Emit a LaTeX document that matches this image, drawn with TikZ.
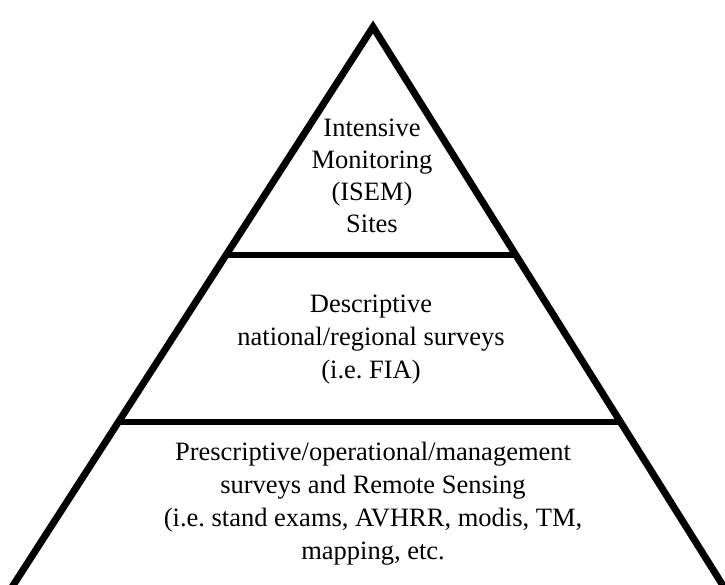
\documentclass[tikz,border=0pt]{standalone}
\usepackage{fontspec}
\setmainfont{Liberation Serif}
\usetikzlibrary{calc}
\frenchspacing
\tikzset{
  edge/.style={line width=7pt, line join=miter, line cap=butt},
  tier/.style={line width=6pt, line cap=butt},
  label/.style={align=center, inner sep=0pt, text=black},
}
\begin{document}
\begin{tikzpicture}[x=1pt, y=-1pt]
  \useasboundingbox (0,0) rectangle (725,584);
  \clip (0,0) rectangle (725,584);
  \coordinate (apex) at (373,27);
  \coordinate (bl) at (14,584);
  \coordinate (br) at (722,584);
  \coordinate (blx) at ($(apex)!1.05!(bl)$);
  \coordinate (brx) at ($(apex)!1.05!(br)$);
  \draw[edge] (blx) -- (apex) -- (brx);
  \coordinate (l1a) at ($(apex)!0.4093!(bl)$);
  \coordinate (l1b) at ($(apex)!0.4093!(br)$);
  \coordinate (l2a) at ($(apex)!0.7092!(bl)$);
  \coordinate (l2b) at ($(apex)!0.7092!(br)$);
  \draw[tier] (l1a) -- (l1b);
  \draw[tier] (l2a) -- (l2b);
  \node[label, font=\fontsize{26.5}{32}\selectfont] (top) at (372,176)
    {Intensive\\Monitoring\\(ISEM)\\Sites};
  \node[label, font=\fontsize{26.5}{33}\selectfont] (mid) at (371,340)
    {Descriptive\\national/regional surveys\\(i.e. FIA)};
  \node[label, font=\fontsize{26.5}{33}\selectfont] (bot) at (373,504)
    {Prescriptive/operational/management\\surveys and Remote Sensing\\(i.e. stand exams, AVHRR, modis, TM,\\mapping, etc.};
\end{tikzpicture}
\end{document}
